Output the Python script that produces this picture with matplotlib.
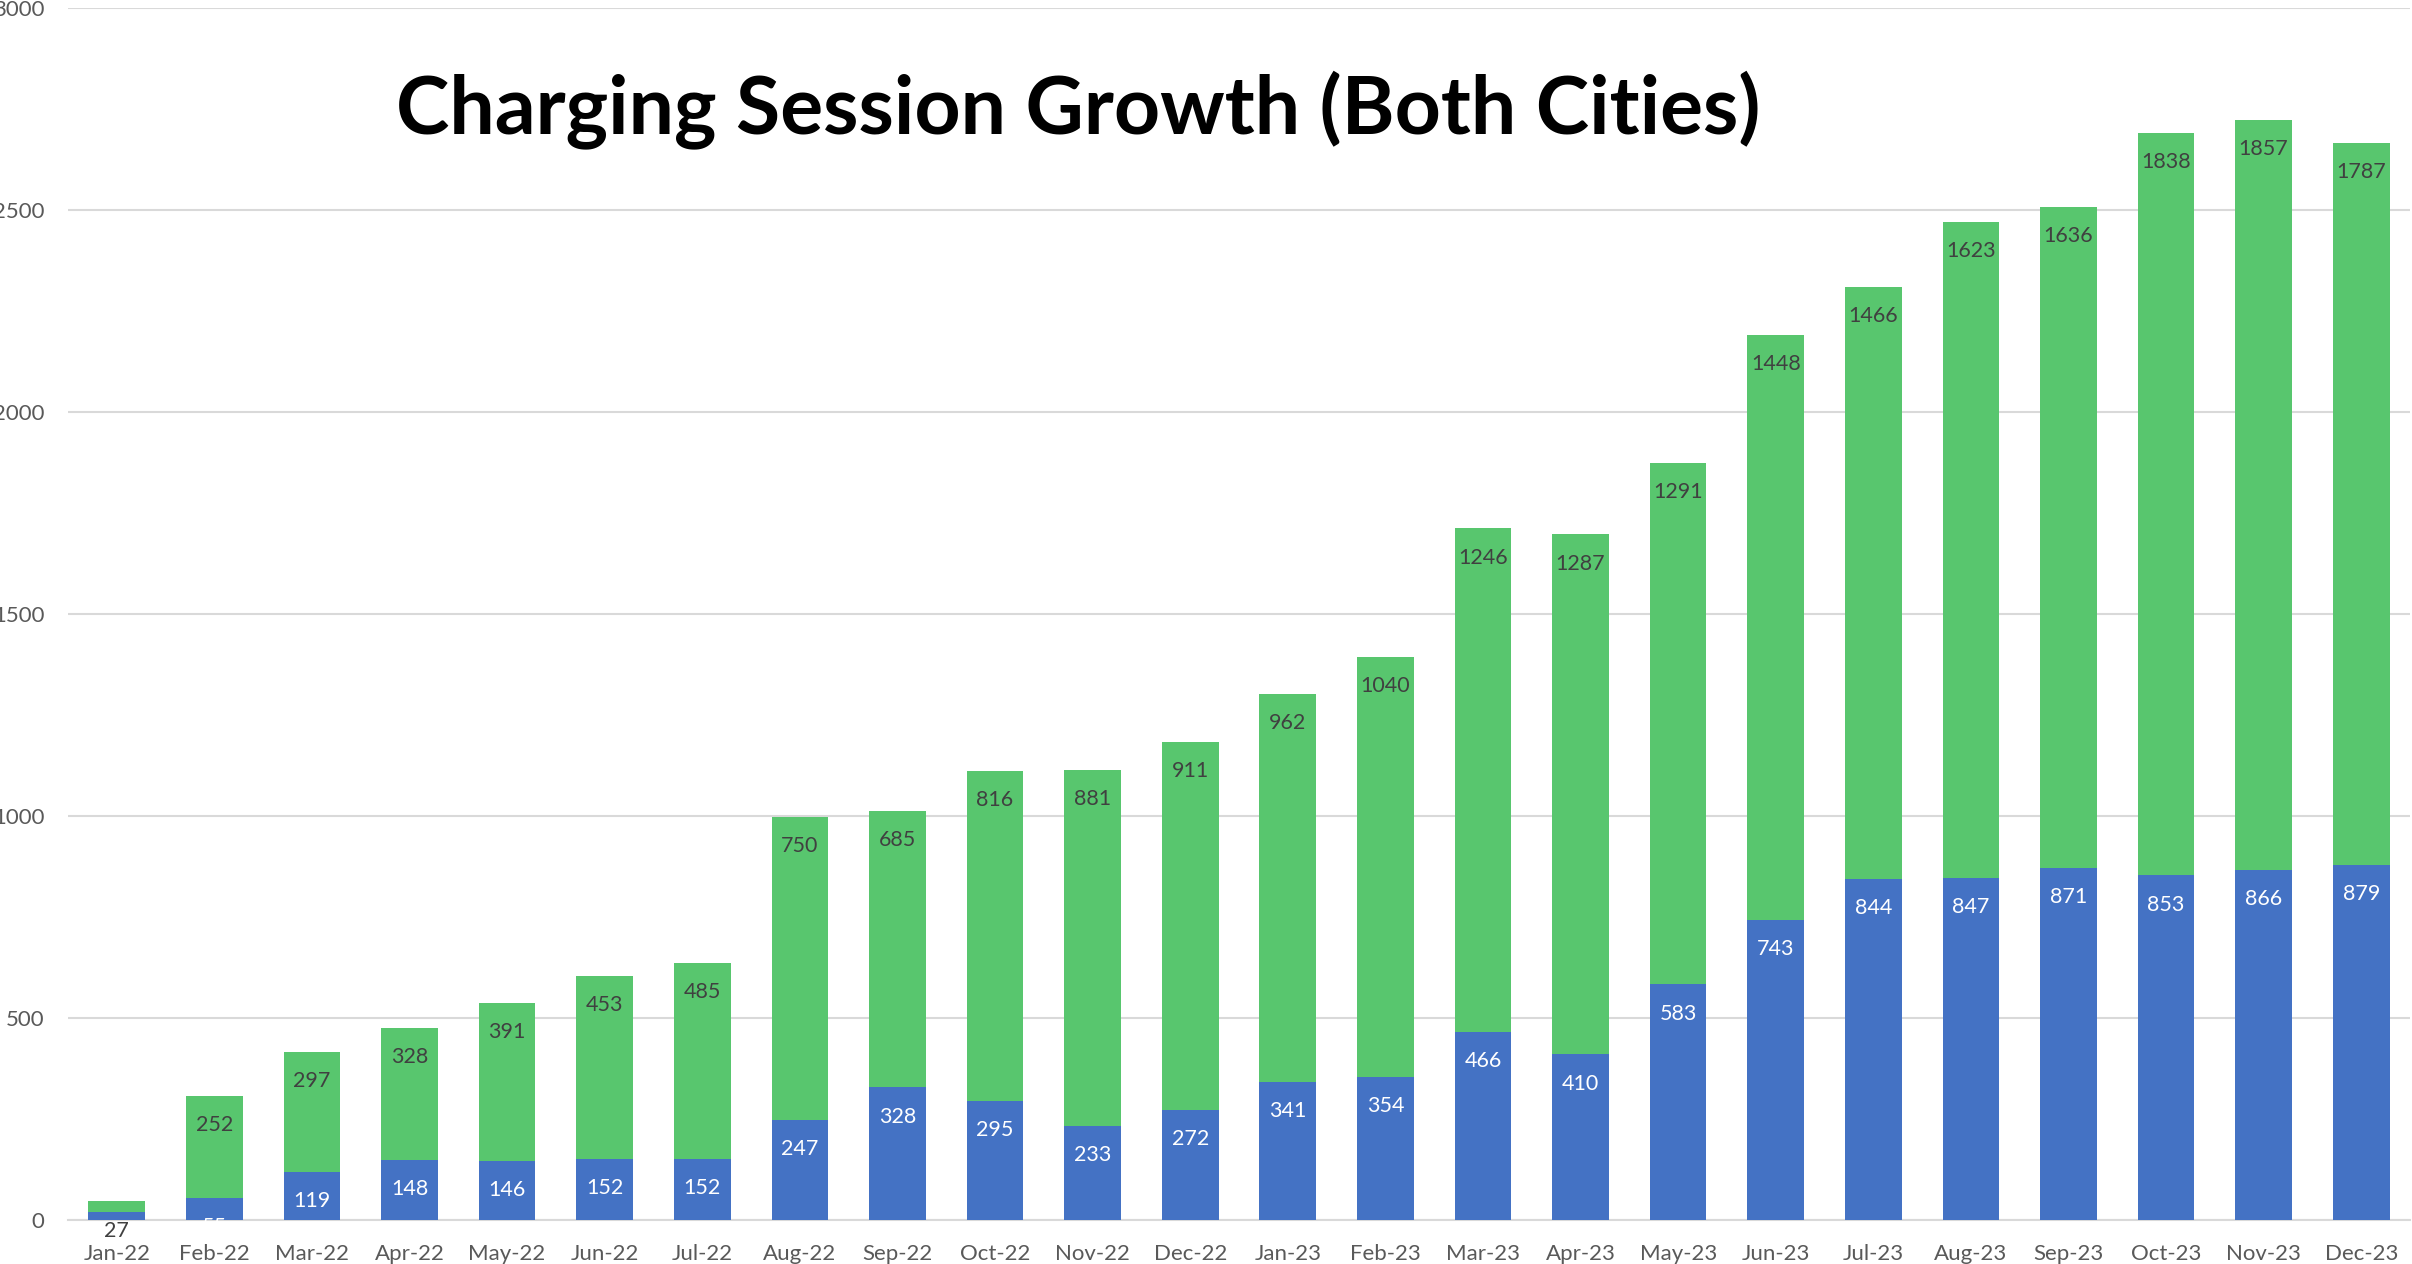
import matplotlib
matplotlib.use("Agg")
import matplotlib.pyplot as plt
import numpy as np

months = ["Jan-22", "Feb-22", "Mar-22", "Apr-22", "May-22", "Jun-22", "Jul-22",
          "Aug-22", "Sep-22", "Oct-22", "Nov-22", "Dec-22", "Jan-23", "Feb-23",
          "Mar-23", "Apr-23", "May-23", "Jun-23", "Jul-23", "Aug-23", "Sep-23",
          "Oct-23", "Nov-23", "Dec-23"]
city_a = [19, 55, 119, 148, 146, 152, 152, 247, 328, 295, 233, 272, 341, 354,
          466, 410, 583, 743, 844, 847, 871, 853, 866, 879]
city_b = [27, 252, 297, 328, 391, 453, 485, 750, 685, 816, 881, 911, 962, 1040,
          1246, 1287, 1291, 1448, 1466, 1623, 1636, 1838, 1857, 1787]
yticks = [0, 500, 1000, 1500, 2000, 2500, 3000]
title = "Charging Session Growth (Both Cities)"

plt.rcParams['font.family'] = ['Lato', 'DejaVu Sans']

W, H = 2412, 1264
fig = plt.figure(figsize=(W / 100, H / 100), dpi=100)
ax = fig.add_axes([68 / W, 44 / H, (2410 - 68) / W, (1220 - 8) / H])

blue = "#4472C4"
green = "#58C66E"
x = np.arange(len(months))
a = np.array(city_a)
b = np.array(city_b)
ax.bar(x, a, width=0.58, color=blue, zorder=2)
ax.bar(x, b, width=0.58, bottom=a, color=green, zorder=2)

for i in range(len(months)):
    ax.annotate(str(city_a[i]), (x[i], a[i]), xytext=(0, -21), textcoords="offset points",
                ha="center", va="center", color="white", fontsize=15.5, zorder=3,
                annotation_clip=False)
    ax.annotate(str(city_b[i]), (x[i], a[i] + b[i]), xytext=(0, -21), textcoords="offset points",
                ha="center", va="center", color="#404040", fontsize=15.5, zorder=3,
                annotation_clip=False)

ax.set_xlim(-0.5, 23.5)
ax.set_ylim(0, 3000)
ax.set_yticks(yticks)
ax.set_yticklabels([str(v) for v in yticks])
ax.set_xticks(x)
ax.set_xticklabels(months)
ax.tick_params(axis="y", length=0, pad=17, labelsize=16, labelcolor="#595959")
ax.tick_params(axis="x", length=0, pad=17, labelsize=16, labelcolor="#595959")
ax.grid(axis="y", color="#D9D9D9", linewidth=1.5, zorder=0)
ax.set_axisbelow(True)
for s in ["top", "right", "left"]:
    ax.spines[s].set_visible(False)
ax.spines["bottom"].set_color("#D9D9D9")
ax.spines["bottom"].set_linewidth(1.5)
ax.spines["bottom"].set_zorder(1)

fig.text(1078 / W, 1 - 110 / H, title, ha="center", va="center",
         fontsize=58, fontweight="bold", color="black")

fig.savefig("out.png", dpi=100, facecolor="white")
